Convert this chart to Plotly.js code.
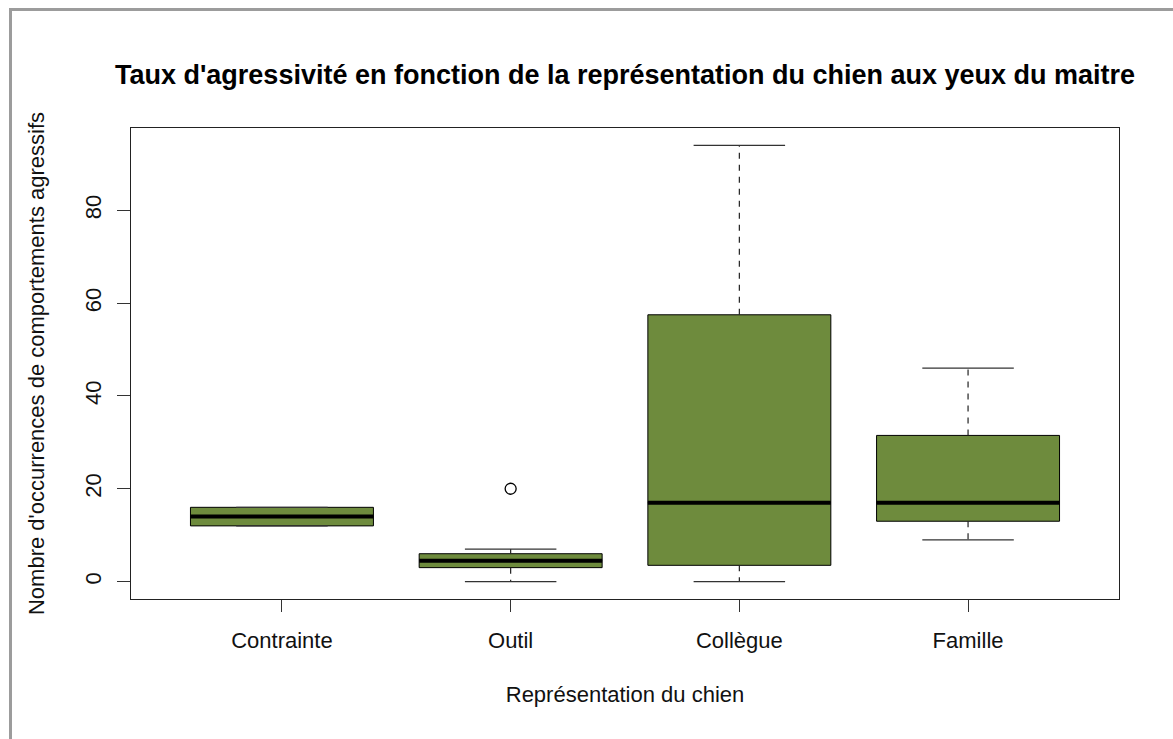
<!DOCTYPE html>
<html>
<head>
<meta charset="utf-8">
<script src="https://cdn.plot.ly/plotly-3.0.1.min.js"></script>
<style>
  html, body { margin: 0; padding: 0; background: #ffffff; }
  #wrap { position: relative; width: 1173px; height: 739px; overflow: hidden; }
  #chart { position: absolute; left: 0; top: 0; width: 1173px; height: 739px; }
  #frame { position: absolute; left: 9px; top: 8px; width: 1200px; height: 800px;
           border-left: 3px solid #9c9c9c; border-top: 3px solid #9c9c9c; pointer-events: none; }
</style>
</head>
<body>
<div id="wrap">
  <div id="chart"></div>
  <div id="frame"></div>
</div>
<script>
// ---- data ----
const categories = ['Contrainte', 'Outil', 'Collègue', 'Famille'];
const q1Values = [12, 3, 3.5, 13];
const medianValues = [14, 4.5, 17, 17];
const q3Values = [16, 6, 57.5, 31.5];
const lowerWhiskers = [12, 0, 0, 9];
const upperWhiskers = [16, 7, 94, 46];
const outlierCategories = ['Outil'];
const outlierValues = [20];
const yTickValues = [0, 20, 40, 60, 80];

const titleText = "Taux d'agressivité en fonction de la représentation du chien aux yeux du maitre";
const xTitleText = 'Représentation du chien';
const yTitleText = "Nombre d'occurrences de comportements agressifs";

// ---- build traces ----
const pos = categories.map((c, i) => i + 1);
const fill = '#6E8B3D';
const font = 'Liberation Sans, Arial, Helvetica, sans-serif';

const boxTrace = {
  type: 'box',
  x: pos,
  q1: q1Values,
  median: medianValues,
  q3: q3Values,
  lowerfence: q1Values,
  upperfence: q3Values,
  width: 0.8,
  whiskerwidth: 0,
  boxpoints: false,
  fillcolor: fill,
  line: { color: '#000000', width: 1 },
  hoverinfo: 'skip',
  showlegend: false
};

const wx = [], wy = [];
const cx = [], cy = [];
const mx = [], my = [];
pos.forEach((p, i) => {
  wx.push(p, p, null, p, p, null);
  wy.push(q3Values[i], upperWhiskers[i], null, q1Values[i], lowerWhiskers[i], null);
  cx.push(p - 0.2, p + 0.2, null, p - 0.2, p + 0.2, null);
  cy.push(upperWhiskers[i], upperWhiskers[i], null, lowerWhiskers[i], lowerWhiskers[i], null);
  mx.push(p - 0.4, p + 0.4, null);
  my.push(medianValues[i], medianValues[i], null);
});

const whiskerTrace = {
  type: 'scatter', mode: 'lines', x: wx, y: wy,
  line: { color: '#222222', width: 1.2, dash: '6px,6px' },
  hoverinfo: 'skip', showlegend: false
};
const capTrace = {
  type: 'scatter', mode: 'lines', x: cx, y: cy,
  line: { color: '#333333', width: 1.2 },
  hoverinfo: 'skip', showlegend: false
};
const medianTrace = {
  type: 'scatter', mode: 'lines', x: mx, y: my,
  line: { color: '#000000', width: 4 },
  hoverinfo: 'skip', showlegend: false
};
const outlierTrace = {
  type: 'scatter', mode: 'markers',
  x: outlierCategories.map(c => categories.indexOf(c) + 1),
  y: outlierValues,
  marker: { symbol: 'circle-open', size: 11, color: '#000000', line: { width: 1.3, color: '#000000' } },
  hoverinfo: 'skip', showlegend: false
};

const layout = {
  width: 1173, height: 739,
  margin: { l: 131, r: 54, t: 128, b: 140 },
  paper_bgcolor: 'rgba(0,0,0,0)',
  plot_bgcolor: '#ffffff',
  font: { family: font, size: 22, color: '#111111' },
  title: {
    text: titleText,
    font: { family: font, size: 27, weight: 700, color: '#000000' },
    x: 0.5, xref: 'paper', xanchor: 'center',
    y: 1 - 75 / 739, yref: 'container', yanchor: 'middle'
  },
  xaxis: {
    range: [0.34, 4.66],
    tickmode: 'array', tickvals: pos, ticktext: categories,
    ticks: 'outside', ticklen: 12, tickwidth: 1, tickcolor: '#333333',
    ticklabelstandoff: 10,
    showline: true, mirror: true, linecolor: '#222222', linewidth: 1,
    showgrid: false, zeroline: false,
    tickfont: { family: font, size: 22, color: '#111111' },
    title: { text: xTitleText, font: { family: font, size: 22, color: '#111111' }, standoff: 34 }
  },
  yaxis: {
    range: [-3.76, 97.76],
    tickmode: 'array', tickvals: yTickValues,
    tickangle: -90,
    ticks: 'outside', ticklen: 13, tickwidth: 1, tickcolor: '#333333',
    ticklabelstandoff: 7,
    showline: true, mirror: true, linecolor: '#222222', linewidth: 1,
    showgrid: false, zeroline: false,
    tickfont: { family: font, size: 22, color: '#111111' },
    title: { text: yTitleText, font: { family: font, size: 22, color: '#111111' }, standoff: 30 }
  },
  showlegend: false
};

Plotly.newPlot('chart', [boxTrace, whiskerTrace, capTrace, medianTrace, outlierTrace], layout,
  { displayModeBar: false, staticPlot: true });
</script>
</body>
</html>
